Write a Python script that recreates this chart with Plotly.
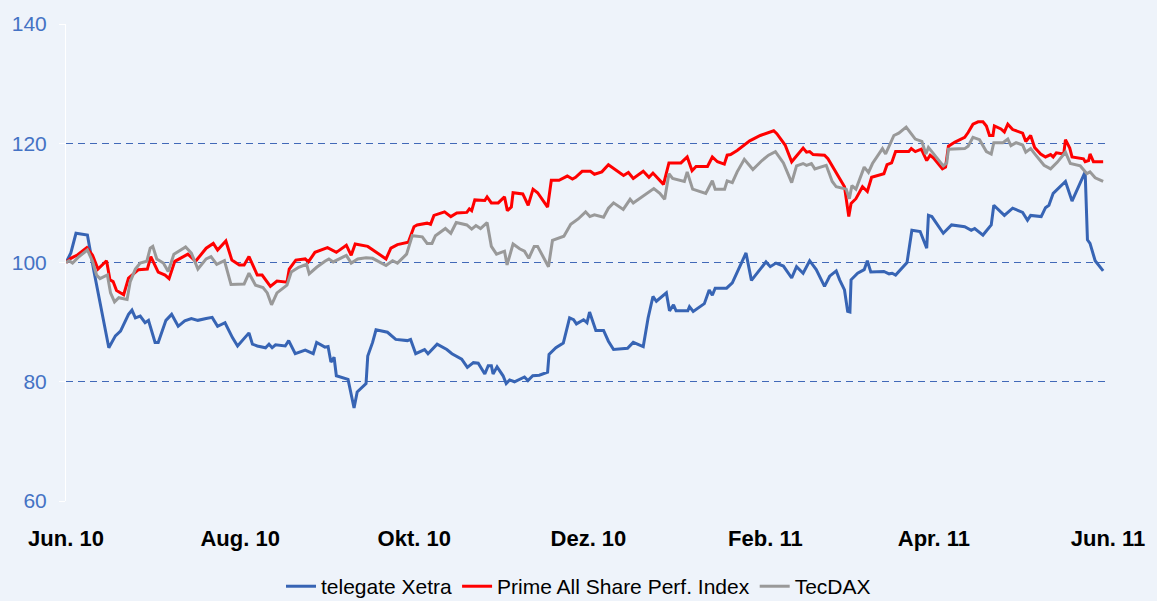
import pandas as pd
import plotly.graph_objects as go

START = "2010-06-01"

# day offsets from 1 June 2010 and index values (start = 100)
blue_days = [0.0,1.7,3.5,7.5,9.8,15.0,17.3,19.1,21.9,23.1,24.3,26.0,27.7,28.9,31.2,32.3,35.0,37.0,39.3,41.6,43.9,46.2,49.1,51.2,53.1,55.7,58.3,60.1,64.1,65.3,67.0,69.9,71.1,72.2,73.4,76.8,78.0,80.3,83.8,86.6,87.8,90.7,91.8,92.8,93.9,94.7,98.8,100.9,102.0,105.1,105.7,107.4,108.6,112.6,115.5,119.6,120.7,122.5,125.6,126.8,130.0,133.4,135.2,138.6,140.6,142.7,144.4,146.7,147.9,149.0,149.6,151.0,153.1,154.2,155.4,157.1,160.6,161.8,163.5,165.8,168.7,169.2,171.6,174.2,176.4,177.8,178.8,181.3,182.5,183.4,185.6,188.3,190.0,191.8,196.7,198.7,202.2,203.9,205.6,206.8,210.3,211.4,212.8,213.7,217.8,218.4,219.7,223.6,225.3,226.4,227.4,231.4,233.4,235.3,238.2,240.1,243.0,245.2,246.7,248.7,251.3,254.2,255.9,258.2,260.5,262.8,265.7,267.5,269.8,271.0,272.7,273.8,274.6,275.0,277.3,279.6,280.7,281.9,286.5,288.3,289.4,290.6,294.6,296.3,299.2,301.5,302.1,303.3,307.3,310.2,314.8,317.1,318.3,321.2,324.1,325.0,328.7,331.6,335.1,336.8,337.9,341.6,343.1,344.3,345.8,350.1,352.4,356.4,357.0,357.8,358.7,360.5,363.3]
blue_vals = [100,101.6,104.9,104.6,98.5,85.7,87.7,88.5,91.3,92.0,90.7,91.0,89.9,90.3,86.6,86.6,90.3,91.3,89.3,90.2,90.6,90.3,90.6,90.8,89.3,89.9,87.4,86.0,88.2,86.3,86.0,85.7,86.3,85.7,86.2,86.0,86.9,84.7,85.3,84.7,86.6,85.8,85.9,83.3,84.1,81.0,80.4,75.6,78.3,79.7,84.3,86.6,88.7,88.3,87.1,86.9,87.1,84.7,85.4,84.7,86.3,85.4,84.7,83.8,82.4,83.2,83.1,81.3,82.7,82.7,81.3,82.5,81.0,79.7,80.3,80.0,80.8,80.2,81.0,81.1,81.6,84.6,85.7,86.5,90.7,90.4,89.7,90.4,89.9,91.7,88.6,88.6,86.8,85.4,85.6,86.6,85.9,90.7,94.3,93.5,94.9,91.9,92.9,91.9,91.9,92.6,91.8,93.1,95.4,94.5,95.7,95.7,96.6,98.5,101.6,97.0,98.7,100.1,99.3,99.9,99.4,97.4,99.3,98.2,100.3,98.8,96.0,97.7,98.6,97.1,95.4,91.8,91.7,97.1,98.2,98.8,100.3,98.4,98.5,98.1,98.2,97.9,100.0,105.4,105.2,102.4,107.9,107.7,104.9,106.3,106.0,105.4,105.7,104.6,106.3,109.6,107.9,109.1,108.4,107.1,107.9,107.7,109.2,109.6,111.6,113.6,110.3,114.6,115.2,103.8,103.2,100.3,98.6]

red_days = [0,1.7,4.1,7.3,9.3,11.2,14.2,15.4,16.5,17.7,20.2,21.9,25.4,28.5,29.7,32.3,34.7,36.1,38.1,42.7,45.4,49.1,51.6,53.1,56.0,58.1,60.7,62.4,64.1,67.0,68.7,71.6,73.9,77.4,78.2,80.5,83.8,84.9,87.2,91.6,94.7,98.2,99.9,101.3,105.7,112.1,113.8,116.1,119.9,121.9,123.0,126.5,127.7,128.9,132.6,134.8,136.9,140.4,141.3,142.1,143.2,146.7,147.5,149.0,151.4,153.6,154.6,156.0,156.6,160.0,161.9,163.6,165.2,168.7,170.0,172.7,175.6,177.4,178.5,180.8,183.7,185.1,187.7,190.0,195.3,197.0,198.7,202.2,204.2,205.6,209.3,211.2,215.4,217.6,219.3,220.7,224.7,226.4,228.2,230.6,231.6,232.8,235.1,237.8,239.5,243.2,246.1,247.9,249.0,251.9,254.2,258.2,259.4,260.5,261.7,265.7,266.9,269.2,272.7,274.2,275.0,276.7,279.0,280.7,282.2,286.5,287.6,289.2,290.6,295.2,296.1,297.5,299.6,301.5,302.7,303.9,307.0,308.1,309.1,311.4,314.8,316.0,317.7,319.5,321.2,322.4,323.5,324.7,325.2,327.5,328.7,329.9,331.6,335.1,336.2,337.9,339.3,341.4,343.1,344.9,345.8,346.9,349.5,350.1,351.6,352.4,356.4,357.0,358.2,358.7,359.9,363.3]
red_vals = [100,100.7,101.3,102.5,101.2,98.9,100.3,97.1,96.8,95.3,94.6,97.4,98.8,98.9,101.0,98.4,97.9,97.3,100.2,101.4,100.2,102.4,103.2,102.1,103.6,100.4,99.6,99.6,101.0,97.9,97.9,96.0,96.9,96.7,98.9,100.4,100.6,100.1,101.7,102.5,101.7,102.9,101.2,103.1,102.7,100.6,102.4,103.0,103.4,106.0,106.3,106.6,106.4,107.9,108.5,107.7,108.3,108.4,109.0,108.7,110.5,110.4,111.0,110.0,110.0,111.0,108.7,109.3,111.7,111.5,109.6,112.3,111.7,109.3,113.8,113.8,114.5,114.0,114.3,115.3,115.3,114.8,115.2,116.4,114.6,115.1,114.1,115.3,114.3,115.0,113.1,116.7,116.7,117.7,115.4,116.1,116.1,117.7,116.9,116.5,118.0,118.1,118.8,119.8,120.4,121.3,121.8,122.1,121.6,119.7,116.9,119.2,118.5,118.6,118.1,118.0,117.4,115.5,112.7,107.7,109.9,110.7,112.7,111.9,114.3,114.9,116.4,116.7,118.6,118.6,119.1,118.6,119.0,117.1,118.0,117.5,115.7,116.0,119.5,120.2,121.0,121.8,123.2,123.6,123.6,122.9,121.3,121.3,122.9,122.4,121.9,123.2,122.3,121.7,120.3,121.3,119.3,118.2,117.7,118.1,117.7,118.4,118.2,120.6,119.2,117.7,117.4,116.9,117.1,118.2,116.9,116.9]

gray_days = [0,1.1,2.3,4.6,7.5,9.3,10.7,11.9,14.5,15.6,17.0,18.5,21.4,22.5,24.3,26.0,28.3,29.5,30.4,31.8,34.1,35.8,37.8,41.9,43.9,46.2,49.1,50.8,52.8,55.5,57.8,62.4,64.1,66.4,69.0,70.5,72.0,73.9,77.4,78.9,81.5,84.3,85.2,87.8,90.7,92.1,93.6,98.2,99.9,102.2,105.1,107.4,112.1,114.4,116.1,119.3,121.3,124.8,126.5,128.2,129.4,132.9,134.8,136.7,140.4,142.1,143.6,145.2,147.5,149.0,150.8,153.6,154.5,156.6,158.9,160.6,162.1,164.0,165.2,169.0,170.4,174.4,176.8,179.4,182.0,183.5,185.1,188.3,190.0,191.8,195.2,197.6,198.7,202.4,205.9,208.0,209.7,211.2,212.5,216.6,217.6,219.5,224.1,226.4,227.4,230.7,231.6,233.4,235.1,237.6,240.6,243.8,246.1,248.5,251.3,254.2,255.9,258.2,259.4,261.1,262.3,266.3,268.4,269.8,272.1,273.3,274.4,275.3,276.7,279.6,281.1,282.5,286.0,287.1,290.0,291.7,294.3,297.5,299.8,301.2,302.1,303.9,307.3,308.5,309.1,314.8,316.0,317.7,320.0,322.4,324.1,325.0,328.2,329.9,331.0,332.8,335.1,336.2,337.9,339.7,342.6,344.9,347.2,350.1,351.8,355.3,357.6,358.7,360.5,363.3]
gray_vals = [100,100.3,99.9,101.0,102.1,100.2,97.9,97.3,97.9,94.9,93.4,94.1,93.8,96.8,98.9,99.9,100.2,102.4,102.7,100.6,99.9,98.5,101.4,102.6,101.6,98.9,100.6,101.0,99.7,100.3,96.3,96.4,98.2,96.2,95.8,94.9,92.9,94.9,96.2,98.4,99.2,99.7,98.1,99.2,100.2,100.6,100.1,101.2,99.9,100.6,100.8,100.7,99.5,100.3,99.9,101.4,104.5,104.3,103.2,103.2,104.5,105.7,104.9,106.7,106.3,105.6,106.2,105.7,106.7,102.7,101.4,101.9,99.6,103.1,102.3,101.9,100.7,102.7,102.7,99.3,103.7,104.4,106.4,107.3,108.5,107.7,108.0,107.6,109.1,110.0,108.9,110.6,110.0,111.3,112.4,111.6,110.6,114.9,114.1,113.6,115.2,112.3,111.6,113.7,112.3,112.3,113.7,113.4,115.2,117.3,115.6,117.1,118.0,118.6,116.7,113.4,116.2,116.6,116.3,116.6,115.7,116.3,113.6,112.7,112.5,112.3,110.7,112.9,112.3,116.0,115.1,116.6,119.1,118.2,121.3,121.7,122.7,120.7,120.3,118.2,119.3,118.2,116.2,116.7,119.0,119.1,119.5,121.0,120.6,118.6,118.2,120.1,120.1,120.7,119.6,120.1,119.7,118.5,119.1,118.0,116.3,115.7,116.8,118.5,116.6,116.2,114.9,115.2,114.2,113.6]

series_names = ["telegate Xetra", "Prime All Share Perf. Index", "TecDAX"]
series_colors = ["#3764B4", "#FF0000", "#999999"]

tick_dates = ["2010-06-01", "2010-08-01", "2010-10-01", "2010-12-01", "2011-02-01", "2011-04-01", "2011-06-01"]
tick_labels = ["Jun. 10", "Aug. 10", "Okt. 10", "Dez. 10", "Feb. 11", "Apr. 11", "Jun. 11"]
y_ticks = [60, 80, 100, 120, 140]

assert len(blue_days) == len(blue_vals)
assert len(red_days) == len(red_vals)
assert len(gray_days) == len(gray_vals)

base = pd.Timestamp(START)
def to_dates(days):
    return base + pd.to_timedelta(days, unit="D")

fig = go.Figure()
for name, days, vals, col in zip(series_names,
                                 [blue_days, red_days, gray_days],
                                 [blue_vals, red_vals, gray_vals],
                                 series_colors):
    fig.add_trace(go.Scatter(x=to_dates(days), y=vals, name=name, mode="lines",
                             line=dict(color=col, width=3)))

BG = "#EEF3FA"
GRID = "#4169B8"
FONT = "Liberation Sans, Arial, sans-serif"

fig.update_layout(
    width=1157, height=601,
    margin=dict(l=64, r=40, t=21, b=100),
    paper_bgcolor=BG, plot_bgcolor=BG,
    font=dict(family=FONT, color="black"),
    showlegend=True,
    legend=dict(orientation="h", xref="container", yref="container",
                x=0.5, xanchor="center", y=0.024, yanchor="middle",
                font=dict(size=21, color="black"), bgcolor="rgba(0,0,0,0)",
                itemwidth=30, tracegroupgap=0),
)
fig.update_xaxes(
    type="date", range=[tick_dates[0], tick_dates[-1]],
    tickvals=tick_dates, ticktext=tick_labels,
    tickfont=dict(size=22, family=FONT, color="black", weight="bold"),
    showgrid=False, zeroline=False, showline=False, ticks="",
    ticklabelstandoff=22,
)
fig.update_yaxes(
    range=[60, 140], tickvals=y_ticks,
    tickfont=dict(size=21, family=FONT, color="#4472C4"),
    showgrid=True, gridcolor=GRID, gridwidth=1, griddash="7px,5px",
    zeroline=False, showline=True, linecolor="white", linewidth=1,
    ticks="outside", ticklen=6, tickcolor="white", ticklabelstandoff=8,
)

fig.write_html(
    "out.html",
    config={"displayModeBar": False},
    post_script="document.body.style.margin='0px';document.body.style.overflow='hidden';document.body.style.background='" + BG + "';",
)
